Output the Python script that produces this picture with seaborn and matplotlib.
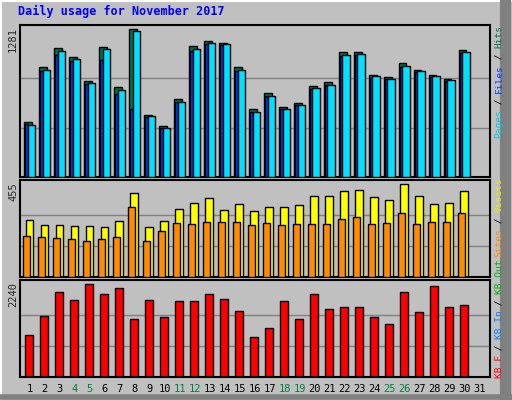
import numpy as np
import pandas as pd
import matplotlib
matplotlib.use("Agg")
import matplotlib.pyplot as plt
import seaborn as sns

days = list(range(1, 32))
hits = [472, 953, 1113, 1037, 835, 1121, 776, 1281, 537, 442, 675, 1134, 1178, 1160, 952, 589,
        727, 606, 640, 788, 822, 1082, 1082, 883, 866, 987, 927, 883, 849, 1100, 0]
files = [455, 920, 1060, 1000, 805, 1010, 720, 590, 515, 420, 650, 1090, 1150, 1140, 920, 565,
         700, 585, 620, 760, 800, 1050, 1060, 860, 845, 950, 905, 865, 830, 1075, 0]
pages = [450, 925, 1090, 1020, 815, 1110, 750, 1265, 525, 425, 645, 1110, 1160, 1150, 930, 560,
         705, 590, 625, 770, 800, 1060, 1065, 870, 850, 965, 915, 870, 840, 1085, 0]
visits = [277, 252, 252, 248, 248, 243, 272, 410, 243, 272, 331, 361, 386, 327, 356, 322,
          341, 341, 351, 396, 396, 420, 425, 391, 376, 455, 396, 356, 361, 420, 0]
sites = [203, 198, 193, 188, 178, 188, 198, 341, 178, 223, 262, 257, 267, 267, 267, 252,
         262, 252, 257, 257, 257, 282, 292, 257, 262, 312, 257, 267, 267, 312, 0]
kbytes = [1023, 1480, 2045, 1850, 2240, 1995, 2140, 1385, 1850, 1440, 1825, 1825, 1995, 1875, 1580, 975,
          1190, 1825, 1385, 1995, 1630, 1680, 1680, 1440, 1265, 2045, 1560, 2190, 1680, 1730, 0]
weekends = [4, 5, 11, 12, 18, 19, 25, 26]

sns.set_style("white")
plt.rcParams['font.family'] = ['DejaVu Sans Mono']
BG = "#C0C0C0"
W, H = 512, 400
fig = plt.figure(figsize=(5.12, 4.0), dpi=100, facecolor=BG)

def fx(px): return px / W
def fy(py): return 1 - py / H

fig.add_artist(plt.Line2D([fx(1), fx(1)], [fy(1), fy(399)], color="white", lw=1.5))
fig.add_artist(plt.Line2D([fx(1), fx(511)], [fy(1), fy(1)], color="white", lw=1.5))
fig.add_artist(plt.Line2D([fx(505), fx(505)], [fy(0), fy(400)], color="#808080", lw=8))
fig.add_artist(plt.Line2D([fx(0), fx(512)], [fy(397), fy(397)], color="#808080", lw=4))

fig.text(fx(18), fy(15), "Daily usage for November 2017", color="#0000FF",
         fontsize=8.5, fontweight="bold", ha="left", va="baseline")

df = pd.DataFrame(dict(day=days, hits=hits, files=files, pages=pages,
                       visits=visits, sites=sites, kb=kbytes))

def mkax(top, bot):
    ax = fig.add_axes([fx(20), fy(bot), fx(490) - fx(20), fy(top) - fy(bot)])
    ax.set_facecolor(BG)
    for s in ax.spines.values():
        s.set_color("black"); s.set_linewidth(1.5)
    return ax

def bars(ax, x, y, w, color, z):
    sns.barplot(x=x, y=y, native_scale=True, width=w, color=color, ax=ax,
                edgecolor="black", linewidth=1, saturation=1, zorder=z)

def grid(ax, m, top):
    for k in (1, 2):
        ax.axhline(m * k / 3, color="#808080", lw=1, zorder=0)
    ax.set_ylim(0, top)
    ax.set_xlim(0.35, 31.7)
    ax.set_xlabel(""); ax.set_ylabel("")
    ax.set_xticks([]); ax.set_yticks([])

d = np.array(days, dtype=float)
ax1 = mkax(25, 177)
bars(ax1, d - 0.12, df.hits, 0.5, "#007050", 2)
bars(ax1, d - 0.2, df.files, 0.2, "#0040FF", 3)
bars(ax1, d + 0.11, df.pages, 0.5, "#00E0FF", 4)
grid(ax1, 1281, 1281 * 152 / 148)

ax2 = mkax(180, 277)
bars(ax2, d - 0.03, df.visits, 0.5, "#FFFF00", 2)
bars(ax2, d - 0.2, df.sites, 0.5, "#FF8C00", 3)
grid(ax2, 455, 455 * 97 / 93)

ax3 = mkax(280, 377)
bars(ax3, d - 0.03, df.kb, 0.55, "#FF0000", 2)
grid(ax3, 2240, 2240 * 97 / 93)

for lab, py in (("1281", 25), ("455", 180), ("2240", 280)):
    fig.text(fx(13), fy(py + 2), lab, rotation=90, ha="center", va="top", fontsize=7.5)

for dd in days:
    fig.text(fx(20) + (dd - 0.35) / (31.7 - 0.35) * (fx(490) - fx(20)), fy(389), str(dd),
             ha="center", va="center", fontsize=7.5,
             color="#008040" if dd in weekends else "black")

def side(pieces, bottom_px, ch=5.6):
    y = bottom_px
    for txt, col in pieces:
        fig.text(fx(499), fy(y), txt, rotation=90, ha="center", va="bottom",
                 color=col, fontsize=6.8)
        y -= len(txt) * ch

side([("Pages", "#00C8E8"), (" / ", "black"), ("Files", "#0040FF"),
      (" / ", "black"), ("Hits", "#007050")], 138)
side([("Sites", "#FF8C00"), (" / ", "black"), ("Visits", "#E8E800")], 257)
side([("KB F", "#FF0000"), (" / ", "black"), ("KB In", "#0080FF"),
      (" / ", "black"), ("KB Out", "#00B000")], 378)

fig.savefig("out.png", dpi=100, facecolor=BG)
